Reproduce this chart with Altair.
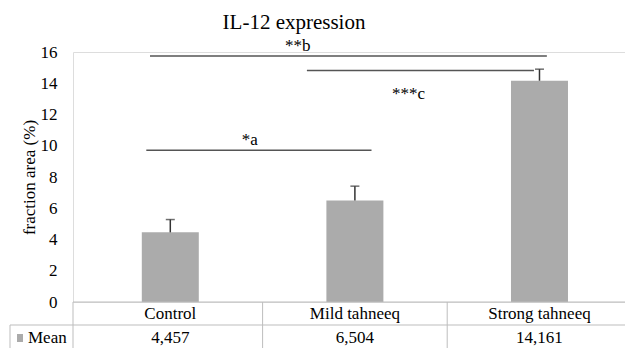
import altair as alt
import pandas as pd

# ---- data ----
categories = ["Control", "Mild tahneeq", "Strong tahneeq"]
means = [4.457, 6.504, 14.161]
errors = [0.82, 0.91, 0.74]
positions = [0.5, 1.5, 2.5]          # band centres (column units)
mean_labels = ["4,457", "6,504", "14,161"]

sig_labels = ["*a", "**b", "***c"]
sig_x1 = [0.37, 0.39, 1.24]
sig_x2 = [1.59, 2.54, 2.47]
sig_y = [9.72, 15.75, 14.81]
sig_text_x = [0.93, 1.19, 1.79]
sig_text_y = [10.05, 16.05, 13.0]

col_bounds = [1, 2]
y_ticks = [0, 2, 4, 6, 8, 10, 12, 14, 16]
chart_title = "IL-12 expression"

W, H = 552, 250
FONT = "'Times New Roman', 'Liberation Serif', Times, serif"

bars = pd.DataFrame({"cat": categories, "pos": positions, "mean": means,
                     "err": errors, "label": mean_labels})
bars["top"] = bars["mean"] + bars["err"]
sig = pd.DataFrame({"label": sig_labels, "x1": sig_x1, "x2": sig_x2, "y": sig_y,
                    "tx": sig_text_x, "ty": sig_text_y})
bounds = pd.DataFrame({"b": col_bounds})
one = pd.DataFrame({"t": ["Mean"]})

xs = alt.Scale(domain=[0, W / 188.0], nice=False, zero=False)
ys = alt.Scale(domain=[0, 16], nice=False)
YAX = alt.Axis(values=y_ticks, grid=False, domain=False, ticks=False,
               labelFont=FONT, labelFontSize=17, labelColor="black",
               labelPadding=16, labelOverlap=False, labelBound=False,
               labelSeparation=0,
               title="fraction area (%)",
               titleFont=FONT, titleFontSize=17, titleFontWeight="normal",
               titleColor="black", titlePadding=2)

X = lambda f: alt.X(f, type="quantitative", scale=xs, axis=None)
Y = lambda f: alt.Y(f, type="quantitative", scale=ys, axis=YAX,
                    title="fraction area (%)")

base = alt.Chart(bars)

bar = base.mark_bar(size=57, color="#ababab").encode(x=X("pos"), y=Y("mean"))
err_rule = base.mark_rule(color="#333333", strokeWidth=1.5).encode(
    x=X("pos"), y=Y("mean"), y2="top:Q")
err_cap = base.mark_tick(orient="horizontal", size=9, thickness=1.5,
                         color="#333333").encode(x=X("pos"), y=Y("top"))

sig_chart = alt.Chart(sig)
sig_lines = sig_chart.mark_rule(color="#555555", strokeWidth=1.5).encode(
    x=X("x1"), x2="x2:Q", y=Y("y"))
sig_text = sig_chart.mark_text(font=FONT, fontSize=17, baseline="alphabetic",
                               align="center", color="black").encode(
    x=X("tx"), y=Y("ty"), text="label:N")

# ---- data table below the plot ----
grid_col = "#bdbdbd"
vlines = alt.Chart(bounds).mark_rule(color=grid_col, strokeWidth=1).encode(
    x=X("b"), y=alt.value(H), y2=alt.value(H + 50))
vzero = alt.Chart(one).mark_rule(color=grid_col, strokeWidth=1).encode(
    x=alt.value(0), y=alt.value(H), y2=alt.value(H + 50))
hline1 = alt.Chart(one).mark_rule(color=grid_col, strokeWidth=1).encode(
    x=alt.value(0), x2=alt.value(W), y=alt.value(H))
hline2 = alt.Chart(one).mark_rule(color=grid_col, strokeWidth=1).encode(
    x=alt.value(-63), x2=alt.value(W), y=alt.value(H + 23))
vleft = alt.Chart(one).mark_rule(color=grid_col, strokeWidth=1).encode(
    x=alt.value(-63), y=alt.value(H + 23), y2=alt.value(H + 50))

cat_text = base.mark_text(font=FONT, fontSize=17, baseline="middle",
                          color="black").encode(
    x=X("pos"), y=alt.value(H + 12), text="cat:N")
val_text = base.mark_text(font=FONT, fontSize=17, baseline="middle",
                          color="black").encode(
    x=X("pos"), y=alt.value(H + 36), text="label:N")
mean_lbl = alt.Chart(one).mark_text(
    font=FONT, fontSize=17, baseline="middle", align="left", color="black").encode(
    x=alt.value(-45), y=alt.value(H + 36), text="t:N")
swatch = alt.Chart(one).mark_rect(color="#ababab").encode(
    x=alt.value(-56), x2=alt.value(-50), y=alt.value(H + 32), y2=alt.value(H + 40))

title_txt = alt.Chart(pd.DataFrame({"t": [chart_title]})).mark_text(
    font=FONT, fontSize=21, baseline="alphabetic", align="center",
    color="black").encode(x=alt.value(221), y=alt.value(-23), text="t:N")

chart = alt.layer(
    bar, err_rule, err_cap, sig_lines, sig_text,
    vlines, vzero, hline1, hline2, vleft, cat_text, val_text, mean_lbl, swatch,
    title_txt
).properties(
    width=W, height=H,
    autosize="none",
    padding={"left": 73, "top": 52, "right": 0, "bottom": 46},
).configure_view(
    stroke="transparent", strokeWidth=0
).configure_axis(
    domain=False, grid=False, ticks=False
).configure(background="white")

chart.save("out.html", embed_options={"renderer": "svg", "actions": False})
